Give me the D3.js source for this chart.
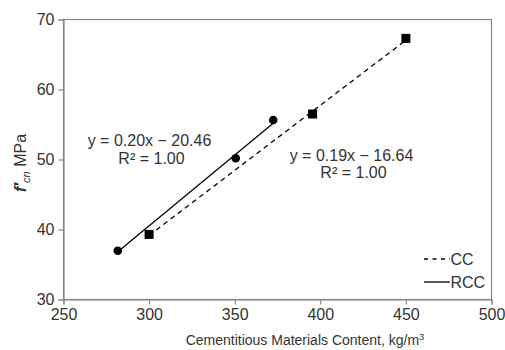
<!DOCTYPE html>
<html><head><meta charset="utf-8">
<script src="https://cdn.jsdelivr.net/npm/d3@7"></script>
<style>body{margin:0;background:#fff}svg{display:block}text{font-family:"Liberation Sans",Arial,sans-serif}</style>
</head><body>
<svg id="c" width="505" height="350"></svg>
<script>
const ccX = [300, 395.5, 450];
const ccY = [39.3, 56.5, 67.3];
const rccX = [281.7, 350.6, 372.5];
const rccY = [36.97, 50.17, 55.64];
const xTicks = [250, 300, 350, 400, 450, 500];
const yTicks = [30, 40, 50, 60, 70];
const ccEq = ["y = 0.19x − 16.64", "R² = 1.00"];
const rccEq = ["y = 0.20x − 20.46", "R² = 1.00"];
const seriesNames = ["CC", "RCC"];

const svg = d3.select("#c");
const L = 63.5, R = 491.5, T = 19.5, B = 299.5;
const x = d3.scaleLinear().domain([250, 500]).range([L, R]);
const y = d3.scaleLinear().domain([30, 70]).range([B, T]);
const frameCol = "#878787";
const txtCol = "#333";

svg.append("rect").attr("x", L).attr("y", T).attr("width", R - L).attr("height", B - T)
  .attr("fill", "none").attr("stroke", frameCol).attr("stroke-width", 1.2);

const xa = svg.append("g").attr("transform", `translate(0,${B})`)
  .call(d3.axisBottom(x).tickValues(xTicks).tickSize(5).tickPadding(4).tickFormat(d3.format("d")));
const ya = svg.append("g").attr("transform", `translate(${L},0)`)
  .call(d3.axisLeft(y).tickValues(yTicks).tickSize(5).tickPadding(4).tickFormat(d3.format("d")));
[xa, ya].forEach(a => {
  a.select(".domain").attr("stroke", frameCol).attr("stroke-width", 1.2);
  a.selectAll(".tick line").attr("stroke", frameCol).attr("stroke-width", 1.2);
  a.selectAll(".tick text").attr("fill", txtCol).style("font-size", "16px")
    .style("font-family", '"Liberation Sans",Arial,sans-serif');
});

const cc = ccX.map((v, i) => [v, ccY[i]]);
const rcc = rccX.map((v, i) => [v, rccY[i]]);

// linear trendline through the data (least squares), spanning data range
function trend(pts) {
  const mx = d3.mean(pts, d => d[0]), my = d3.mean(pts, d => d[1]);
  const sxy = d3.sum(pts, d => (d[0] - mx) * (d[1] - my));
  const sxx = d3.sum(pts, d => (d[0] - mx) ** 2);
  const m = sxy / sxx, b = my - m * mx;
  const [x0, x1] = d3.extent(pts, d => d[0]);
  return [[x0, m * x0 + b], [x1, m * x1 + b]];
}
const line = d3.line().x(d => x(d[0])).y(d => y(d[1]));

svg.append("path").attr("d", line(trend(cc))).attr("fill", "none").attr("stroke", "#000")
  .attr("stroke-width", 1.3).attr("stroke-dasharray", "5,4");
svg.append("path").attr("d", line(trend(rcc))).attr("fill", "none").attr("stroke", "#000")
  .attr("stroke-width", 1.3);

svg.selectAll("rect.sq").data(cc).enter().append("rect").attr("class", "sq")
  .attr("x", d => x(d[0]) - 4.5).attr("y", d => y(d[1]) - 4.5).attr("width", 9).attr("height", 9)
  .attr("fill", "#000");
svg.selectAll("circle.ci").data(rcc).enter().append("circle").attr("class", "ci")
  .attr("cx", d => x(d[0])).attr("cy", d => y(d[1])).attr("r", 4.3).attr("fill", "#000");

function eq(lines, cx, y0, gap) {
  const t = svg.append("text").attr("text-anchor", "middle").attr("fill", txtCol).style("font-size", "16px");
  lines.forEach((s, i) => t.append("tspan").attr("x", cx + (i ? 2 : 0)).attr("y", y0 + i * gap).text(s));
}
eq(rccEq, 149.5, 146, 18);
eq(ccEq, 351.5, 161, 17);

const lg = svg.append("g");
lg.append("line").attr("x1", 424).attr("x2", 450).attr("y1", 259).attr("y2", 259)
  .attr("stroke", "#000").attr("stroke-width", 1.3).attr("stroke-dasharray", "4,4.5");
lg.append("line").attr("x1", 424).attr("x2", 450).attr("y1", 282).attr("y2", 282)
  .attr("stroke", "#000").attr("stroke-width", 1.3);
lg.append("text").attr("x", 450.5).attr("y", 265).attr("fill", txtCol).style("font-size", "16px").text(seriesNames[0]);
lg.append("text").attr("x", 450.5).attr("y", 288).attr("fill", txtCol).style("font-size", "16px").text(seriesNames[1]);

const xt = svg.append("text").attr("x", 305).attr("y", 345).attr("text-anchor", "middle")
  .attr("fill", txtCol).style("font-size", "14px");
xt.append("tspan").text("Cementitious Materials Content, kg/m");
xt.append("tspan").attr("dy", -5).style("font-size", "9.5px").text("3");

const yt = svg.append("text").attr("transform", "translate(26,163) rotate(-90)").attr("text-anchor", "middle")
  .attr("fill", txtCol).style("font-size", "16px");
yt.append("tspan").style("font-style", "italic").style("font-weight", "bold").text("f′");
yt.append("tspan").attr("dy", 4).style("font-style", "italic").style("font-size", "11px").text("cn");
yt.append("tspan").attr("dy", -4).text(" MPa");
</script>
</body></html>
